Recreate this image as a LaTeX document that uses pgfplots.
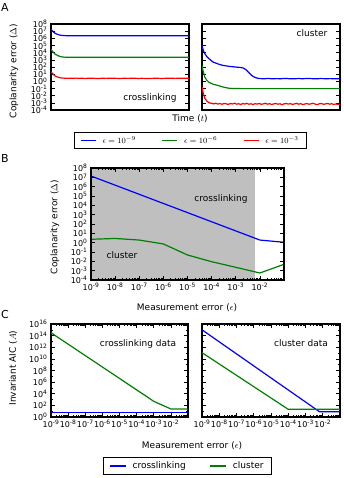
\documentclass[border=0pt]{standalone}
\usepackage{fontspec}
\setmainfont{DejaVu Sans}
\usepackage{pgfplots}
\pgfplotsset{compat=1.18}

\definecolor{mplblue}{rgb}{0,0,1}
\definecolor{mplgreen}{rgb}{0,0.5,0}
\definecolor{mplred}{rgb}{1,0,0}
\definecolor{shadegray}{rgb}{0.75,0.75,0.75}

\newcommand\lbl{\fontsize{9}{10}\selectfont}

\pgfplotsset{
  panel/.style={
    scale only axis, anchor=south west,
    axis line style={line width=1.3pt},
    tick align=inside,
    major tick length=4pt, minor tick length=2pt,
    major tick style={line width=0.6pt, black},
    minor tick style={line width=0.5pt, black},
    tick label style={font=\fontsize{8}{9}\selectfont},
    every axis plot/.append style={line width=1.2pt},
  },
  expy/.style={yticklabel={10\textsuperscript{\pgfmathprintnumber[assume math mode=true]{\tick}}}},
  decx/.style={xmin=1e-9, xmax=1e-1,
    xtick={1e-9,1e-8,1e-7,1e-6,1e-5,1e-4,1e-3,1e-2},
    xticklabels={10\textsuperscript{-9},10\textsuperscript{-8},10\textsuperscript{-7},10\textsuperscript{-6},10\textsuperscript{-5},10\textsuperscript{-4},10\textsuperscript{-3},10\textsuperscript{-2}},
    minor xtick={2e-9,3e-9,4e-9,5e-9,6e-9,7e-9,8e-9,9e-9,2e-8,3e-8,4e-8,5e-8,6e-8,7e-8,8e-8,9e-8,2e-7,3e-7,4e-7,5e-7,6e-7,7e-7,8e-7,9e-7,2e-6,3e-6,4e-6,5e-6,6e-6,7e-6,8e-6,9e-6,2e-5,3e-5,4e-5,5e-5,6e-5,7e-5,8e-5,9e-5,2e-4,3e-4,4e-4,5e-4,6e-4,7e-4,8e-4,9e-4,2e-3,3e-3,4e-3,5e-3,6e-3,7e-3,8e-3,9e-3,2e-2,3e-2,4e-2,5e-2,6e-2,7e-2,8e-2,9e-2}},
}

\begin{document}
\begin{tikzpicture}
\path[use as bounding box] (0,0) rectangle (343pt,478pt);

% ---- A, crosslinking
\begin{axis}[panel, expy, at={(51pt,368pt)}, width=138pt, height=86pt,
  xmin=0, xmax=1, ymin=-4, ymax=8, xtick=\empty, ytick={-4,...,8},
  legend columns=3,
  legend style={at={(1.011,-0.355)}, anchor=center, draw=black, line width=1.3pt,
    font=\fontsize{8}{9}\selectfont, inner xsep=6pt, inner ysep=2pt,
    /tikz/every even column/.append style={column sep=24pt},
    /tikz/every odd column/.append style={column sep=4pt}},
  legend image code/.code={\draw[#1, line width=1.2pt] (0pt,0pt) -- (15pt,0pt);},
]
\addplot[mplblue] coordinates {(0,7.26)(0.01,7.05)(0.02,6.85)(0.03,6.7)(0.04,6.6)(0.06,6.47)(0.08,6.4)(0.11,6.37)(0.2,6.36)(0.4,6.36)(0.6,6.36)(0.8,6.36)(1,6.36)};
\addlegendentry{$\epsilon=10^{-9}$}
\addplot[mplgreen] coordinates {(0,4.47)(0.01,4.2)(0.02,3.98)(0.03,3.8)(0.04,3.68)(0.06,3.5)(0.08,3.4)(0.11,3.36)(0.2,3.35)(0.5,3.35)(1,3.35)};
\addlegendentry{$\epsilon=10^{-6}$}
\addplot[mplred] coordinates {(0,1.35)(0.01,1.1)(0.02,0.9)(0.03,0.75)(0.04,0.65)(0.06,0.52)(0.08,0.46)(0.1,0.43)
  (0.12,0.41)(0.14,0.44)(0.16,0.42)(0.18,0.45)(0.2,0.41)(0.22,0.43)(0.25,0.40)(0.28,0.44)(0.31,0.42)(0.34,0.39)
  (0.37,0.43)(0.40,0.41)(0.43,0.44)(0.46,0.42)(0.5,0.40)(0.53,0.43)(0.56,0.41)(0.6,0.44)(0.63,0.40)(0.66,0.42)
  (0.7,0.39)(0.73,0.41)(0.76,0.43)(0.8,0.40)(0.83,0.42)(0.86,0.44)(0.9,0.41)(0.93,0.43)(0.96,0.42)(1,0.44)};
\addlegendentry{$\epsilon=10^{-3}$}
\end{axis}

% ---- A, cluster
\begin{axis}[panel, at={(202pt,368pt)}, width=138pt, height=86pt,
  xmin=0, xmax=1, ymin=-4, ymax=8, xtick=\empty, ytick={-4,...,8}, yticklabels={},
]
\addplot[mplblue] coordinates {(0,5.04)(0.005,4.6)(0.01,4.3)(0.02,3.87)(0.035,3.45)(0.05,3.17)(0.08,2.69)(0.12,2.4)
  (0.15,2.23)(0.2,2.08)(0.25,1.98)(0.28,1.93)(0.3,1.85)(0.32,1.6)(0.34,1.2)(0.36,0.82)(0.38,0.58)(0.4,0.44)(0.42,0.38)
  (0.45,0.36)(0.48,0.40)(0.51,0.35)(0.54,0.38)(0.57,0.36)(0.6,0.41)(0.63,0.37)(0.66,0.35)(0.7,0.39)(0.73,0.36)
  (0.76,0.40)(0.8,0.37)(0.83,0.35)(0.86,0.39)(0.9,0.36)(0.93,0.38)(0.96,0.35)(1,0.37)};
\addplot[mplgreen] coordinates {(0,2.23)(0.005,1.7)(0.01,1.3)(0.02,0.58)(0.035,0.15)(0.05,-0.13)(0.08,-0.4)(0.12,-0.6)
  (0.15,-0.78)(0.19,-0.95)(0.22,-1.0)(0.3,-1.02)(0.5,-1.02)(0.7,-1.02)(1,-1.02)};
\addplot[mplred] coordinates {(0,-0.73)(0.005,-1.3)(0.01,-1.75)(0.02,-2.36)(0.035,-2.75)(0.05,-2.98)(0.07,-3.08)
  (0.085,-3.15)(0.1,-3.05)(0.115,-3.18)(0.13,-3.1)(0.145,-3.2)(0.16,-3.08)(0.175,-3.14)(0.19,-3.22)(0.205,-3.1)
  (0.22,-3.16)(0.235,-3.05)(0.25,-3.19)(0.265,-3.12)(0.28,-3.24)(0.295,-3.1)(0.31,-3.17)(0.325,-3.07)(0.34,-3.2)
  (0.355,-3.13)(0.37,-3.25)(0.385,-3.11)(0.4,-3.18)(0.415,-3.09)(0.43,-3.21)(0.445,-3.14)(0.46,-3.06)(0.475,-3.19)
  (0.49,-3.12)(0.505,-3.23)(0.52,-3.15)(0.535,-3.08)(0.55,-3.2)(0.565,-3.13)(0.58,-3.26)(0.595,-3.14)(0.61,-3.09)
  (0.625,-3.18)(0.64,-3.11)(0.655,-3.22)(0.67,-3.15)(0.685,-3.07)(0.7,-3.19)(0.715,-3.12)(0.73,-3.24)(0.745,-3.16)
  (0.76,-3.1)(0.775,-3.2)(0.79,-3.13)(0.805,-3.06)(0.82,-3.18)(0.835,-3.25)(0.85,-3.14)(0.865,-3.09)(0.88,-3.21)
  (0.895,-3.15)(0.91,-3.08)(0.925,-3.19)(0.94,-3.13)(0.955,-3.23)(0.97,-3.16)(0.985,-3.22)(1,-3.18)};
\end{axis}

% ---- B
\begin{axis}[panel, xmode=log, expy, decx, axis on top, at={(91pt,198pt)}, width=193pt, height=112pt,
  ymin=-4, ymax=8, ytick={-4,...,8},
]
\addplot[fill=shadegray, draw=none, line width=0pt] coordinates {(1e-9,-4)(1e-9,8)(6.2e-3,8)(6.2e-3,-4)} --cycle;
\addplot[mplblue] coordinates {(1e-9,7.14)(1e-2,0.28)(1e-1,0.04)};
\addplot[mplgreen] coordinates {(1e-9,0.36)(1e-8,0.45)(1e-7,0.28)(1e-6,-0.14)(1e-5,-1.32)(1e-4,-2.04)(1e-3,-2.64)(1e-2,-3.25)(1e-1,-2.32)};
\end{axis}

% ---- C, crosslinking data
\begin{axis}[panel, xmode=log, expy, decx, at={(51pt,61pt)}, width=137pt, height=93pt,
  ymin=0, ymax=16, ytick={0,2,...,16}, minor y tick num=1,
  legend columns=2,
  legend style={at={(0.996,-0.527)}, anchor=center, draw=black, line width=1.3pt,
    font=\lbl, inner xsep=6pt, inner ysep=2pt,
    /tikz/every even column/.append style={column sep=22pt},
    /tikz/every odd column/.append style={column sep=4pt}},
  legend image code/.code={\draw[#1, line width=1.2pt] (0pt,0pt) -- (16pt,0pt);},
]
\addplot[mplblue] coordinates {(1e-9,0.74)(1e-1,0.74)};
\addlegendentry{crosslinking}
\addplot[mplgreen] coordinates {(1e-9,14.5)(1e-3,2.7)(1e-2,1.38)(1e-1,1.38)};
\addlegendentry{cluster}
\end{axis}

% ---- C, cluster data
\begin{axis}[panel, xmode=log, decx, at={(202pt,61pt)}, width=138pt, height=93pt,
  ymin=0, ymax=16, ytick={0,2,...,16}, minor y tick num=1, yticklabels={},
]
\addplot[mplblue] coordinates {(1e-9,15)(6.5e-3,0.9)(1e-1,0.9)};
\addplot[mplgreen] coordinates {(1e-9,11.07)(1e-4,1.32)(1e-1,1.32)};
\end{axis}

% panel letters, axis labels, annotations
\node[font=\fontsize{11}{12}\selectfont] at (5pt,470pt) {A};
\node[font=\fontsize{11}{12}\selectfont] at (5pt,320pt) {B};
\node[font=\fontsize{11}{12}\selectfont] at (5pt,164pt) {C};

\node[font=\lbl, rotate=90] at (14pt,407pt) {Coplanarity error ($\Delta$)};
\node[font=\lbl] at (190pt,359pt) {Time ($t$)};
\node[font=\lbl] at (150pt,380pt) {crosslinking};
\node[font=\lbl] at (312pt,445pt) {cluster};

\node[font=\lbl, rotate=90] at (55pt,251pt) {Coplanarity error ($\Delta$)};
\node[font=\lbl] at (187pt,170pt) {Measurement error ($\epsilon$)};
\node[font=\lbl] at (221pt,279pt) {crosslinking};
\node[font=\lbl] at (122pt,223pt) {cluster};

\node[font=\lbl, rotate=90] at (13pt,110pt) {Invariant AIC ($A$)};
\node[font=\lbl] at (192pt,32pt) {Measurement error ($\epsilon$)};
\node[font=\lbl] at (138pt,134pt) {crosslinking data};
\node[font=\lbl] at (301pt,135pt) {cluster data};
\end{tikzpicture}
\end{document}
